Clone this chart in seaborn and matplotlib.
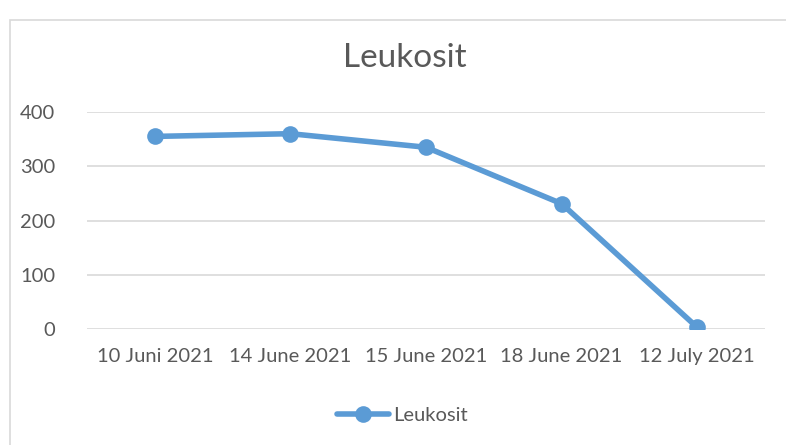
import matplotlib
matplotlib.use("Agg")
import matplotlib.pyplot as plt
from matplotlib.patches import Rectangle
import pandas as pd
import seaborn as sns

dates = ["10 Juni 2021", "14 June 2021", "15 June 2021", "18 June 2021", "12 July 2021"]
leukosit = [355, 360, 335, 231, 3]
yticks = [0, 100, 200, 300, 400]

sns.set_style("white")
plt.rcParams["font.family"] = ["Lato", "DejaVu Sans"]

df = pd.DataFrame({"date": dates, "Leukosit": leukosit})
blue = "#5B9BD5"
grey = "#595959"

fig = plt.figure(figsize=(7.86, 4.45), dpi=100)
ax = fig.add_axes([87 / 786, 116 / 445, 678 / 786, 217 / 445])

sns.lineplot(data=df, x="date", y="Leukosit", ax=ax, color=blue, linewidth=4,
             marker="o", markersize=12, markeredgewidth=0, label="Leukosit", sort=False)

ax.set_xlim(-0.5, len(dates) - 0.5)
ax.set_ylim(0, 400)
ax.set_yticks(yticks)
ax.grid(axis="y", color="#D9D9D9", linewidth=1.2)
ax.set_axisbelow(True)
for s in ax.spines.values():
    s.set_visible(False)
ax.tick_params(axis="both", length=0, labelsize=14.5, labelcolor=grey)
ax.tick_params(axis="x", pad=14)
ax.tick_params(axis="y", pad=23)
ax.set_xlabel("")
ax.set_ylabel("")

fig.text(405 / 786, 1 - 58 / 445, "Leukosit", ha="center", va="center", fontsize=24, color=grey)

ax.legend(loc="center", bbox_to_anchor=(0.465, -0.4), frameon=False, fontsize=14.5,
          labelcolor=grey, handlelength=2.6, handletextpad=0.2)

fig.add_artist(Rectangle((10 / 786, -0.1), 1.0, 1 - 20 / 445 + 0.1, transform=fig.transFigure,
                         fill=False, edgecolor="#D9D9D9", linewidth=1.2, clip_on=False))

fig.savefig("out.png", dpi=100)
